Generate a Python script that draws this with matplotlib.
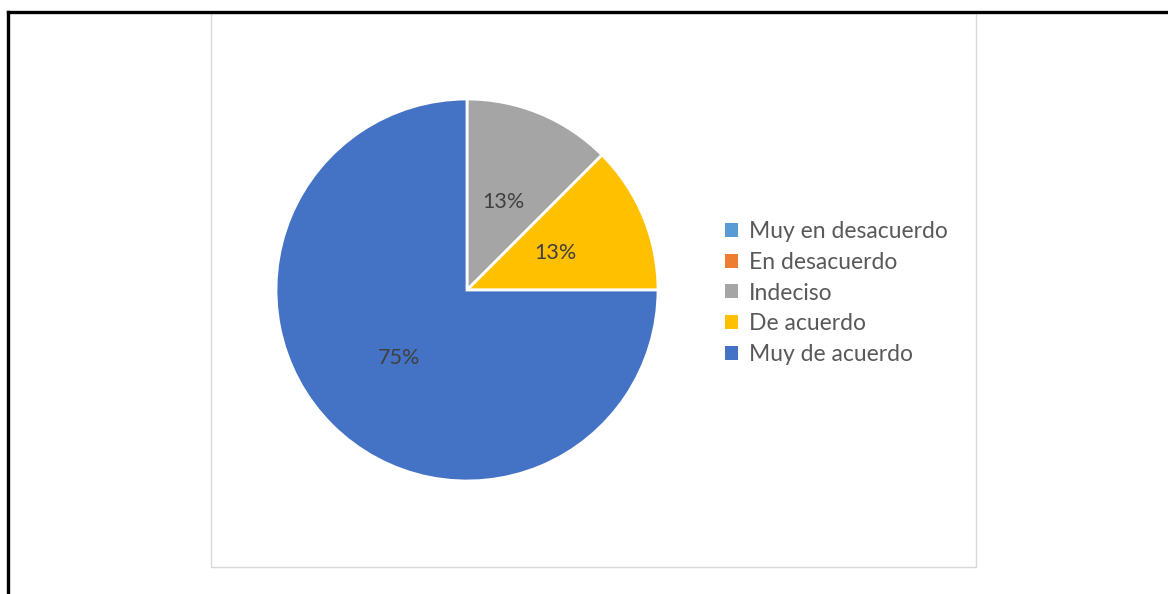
import matplotlib
matplotlib.use("Agg")
import matplotlib.pyplot as plt
from matplotlib.patches import Rectangle, Patch
from matplotlib.lines import Line2D

categories = ["Muy en desacuerdo", "En desacuerdo", "Indeciso", "De acuerdo", "Muy de acuerdo"]
values = [0, 0, 12.5, 12.5, 75]
value_labels = ["", "", "13%", "13%", "75%"]
colors = ["#5B9BD5", "#ED7D31", "#A5A5A5", "#FFC000", "#4472C4"]

W, H = 1168, 594
fig = plt.figure(figsize=(W / 100, H / 100), dpi=100)
plt.rcParams['font.family'] = ['Lato', 'DejaVu Sans']

def px(x, y):
    return x / W, 1 - y / H

# black frame (top and left visible)
fig.add_artist(Line2D([8 / W, 1.0], [1 - 12 / H] * 2, color="black", lw=2.4, transform=fig.transFigure))
fig.add_artist(Line2D([8 / W] * 2, [1 - 12 / H, 0], color="black", lw=2.4, transform=fig.transFigure))
# chart area border
x0, y0 = px(211, 567)
fig.add_artist(Rectangle((x0, y0), (976 - 211) / W, (567 - 13) / H, fill=False,
                         edgecolor="#D9D9D9", lw=1.0, transform=fig.transFigure))

cx, cy, r = 467, 290, 191
ax = fig.add_axes([(cx - r) / W, 1 - (cy + r) / H, 2 * r / W, 2 * r / H])
nz = [i for i, v in enumerate(values) if v > 0]
wedges, texts = ax.pie([values[i] for i in nz], colors=[colors[i] for i in nz],
                       labels=[value_labels[i] for i in nz], labeldistance=0.5,
                       startangle=90, counterclock=False, radius=1,
                       wedgeprops=dict(edgecolor="white", linewidth=2))
for t in texts:
    t.set_fontsize(15.5)
    t.set_color("#404040")
    t.set_ha("center")
    t.set_va("center")
ax.set_xlim(-1, 1)
ax.set_ylim(-1, 1)
ax.set_aspect("equal")
ax.axis("off")

handles = [Patch(facecolor=c, edgecolor="none") for c in colors]
leg = fig.legend(handles, categories, loc="center left", bbox_to_anchor=px(725, 293),
                 frameon=False, fontsize=16.5, handlelength=0.55, handleheight=0.55,
                 handletextpad=0.5, labelspacing=0.42, borderpad=0, borderaxespad=0)
for t in leg.get_texts():
    t.set_color("#595959")

fig.savefig("out.png", dpi=100)
